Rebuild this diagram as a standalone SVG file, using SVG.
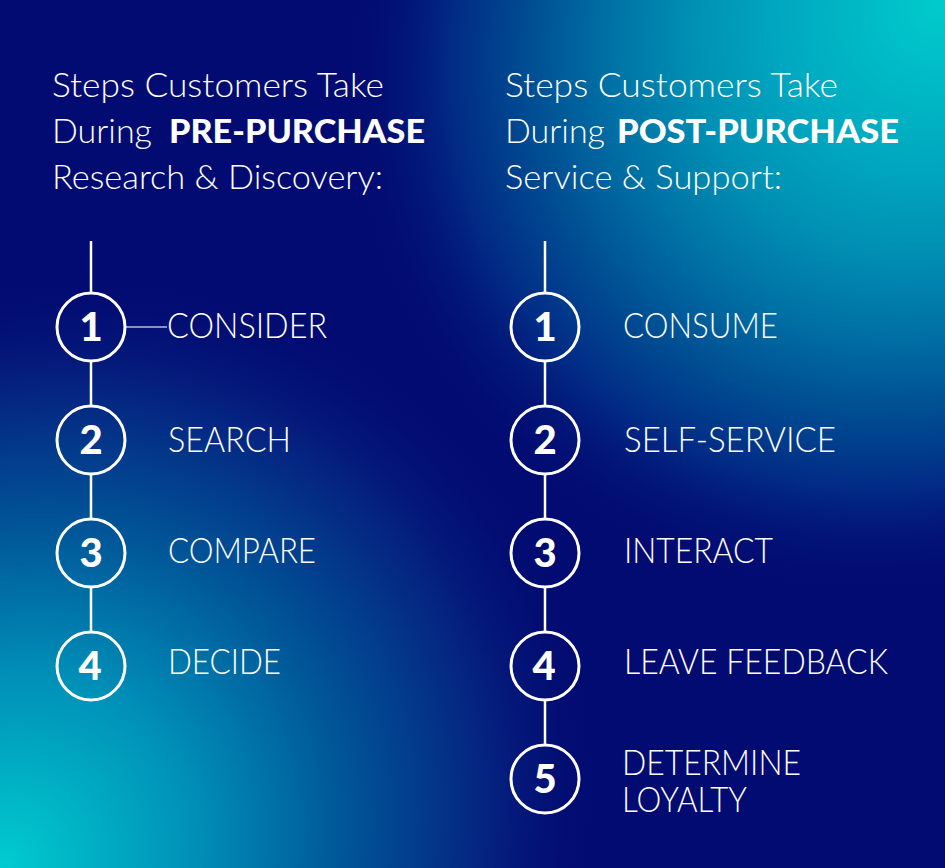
<svg xmlns="http://www.w3.org/2000/svg" width="945" height="868" viewBox="0 0 945 868">
<defs>
<radialGradient id="glowBL" gradientUnits="userSpaceOnUse" cx="0" cy="0" r="1" gradientTransform="translate(0,868) rotate(-42.6) scale(640,560)">
<stop offset="0" stop-color="#00ccd0"/>
<stop offset="0.15" stop-color="#00b0c4"/>
<stop offset="0.32" stop-color="#0090b8"/>
<stop offset="0.55" stop-color="#005a9a"/>
<stop offset="0.82" stop-color="#05207f"/>
<stop offset="1" stop-color="#020b71" stop-opacity="0"/>
</radialGradient>
<radialGradient id="glowTR" gradientUnits="userSpaceOnUse" cx="0" cy="0" r="1" gradientTransform="translate(945,0) rotate(-42.6) scale(640,560)">
<stop offset="0" stop-color="#00cccc"/>
<stop offset="0.27" stop-color="#00a8c0"/>
<stop offset="0.42" stop-color="#0090b4"/>
<stop offset="0.56" stop-color="#0070a4"/>
<stop offset="0.71" stop-color="#004890"/>
<stop offset="0.82" stop-color="#022a85"/>
<stop offset="1" stop-color="#020b71" stop-opacity="0"/>
</radialGradient>
<style>
.h{font-family:Lato,"Liberation Sans",sans-serif;font-weight:300;font-size:33px;fill:#fff}
.hb{font-family:Lato,"Liberation Sans",sans-serif;font-weight:900;font-size:33px;fill:#fff}
.lb{font-family:Lato,"Liberation Sans",sans-serif;font-weight:300;font-size:34.5px;fill:#fff}
.n{font-family:Lato,"Liberation Sans",sans-serif;font-weight:900;font-size:40px;fill:#fff;text-anchor:middle}
.c{fill:none;stroke:#fff;stroke-width:3}
.ln{stroke:#fff;stroke-width:2.5;fill:none}
.lt{stroke:#b8bcd8;stroke-width:1.5;fill:none}
</style>
</defs>
<rect width="945" height="868" fill="#020b71"/>
<rect width="945" height="868" fill="url(#glowBL)"/>
<rect width="945" height="868" fill="url(#glowTR)"/>
<g id="heading-left">
<text class="h" x="52" y="97" textLength="332" lengthAdjust="spacingAndGlyphs">Steps Customers Take</text>
<text class="h" x="52" y="143" textLength="100" lengthAdjust="spacingAndGlyphs">During</text>
<text class="hb" x="169" y="143" textLength="256" lengthAdjust="spacingAndGlyphs">PRE-PURCHASE</text>
<text class="h" x="52" y="189" textLength="331" lengthAdjust="spacingAndGlyphs">Research &amp; Discovery:</text>
</g>
<g id="heading-right">
<text class="h" x="505" y="97" textLength="333" lengthAdjust="spacingAndGlyphs">Steps Customers Take</text>
<text class="h" x="505" y="143" textLength="100" lengthAdjust="spacingAndGlyphs">During</text>
<text class="hb" x="617" y="143" textLength="282" lengthAdjust="spacingAndGlyphs">POST-PURCHASE</text>
<text class="h" x="505" y="189" textLength="277" lengthAdjust="spacingAndGlyphs">Service &amp; Support:</text>
</g>
<g id="connectors">
<line class="ln" x1="91" y1="241" x2="91" y2="292"/>
<line class="ln" x1="91" y1="362" x2="91" y2="405"/>
<line class="ln" x1="91" y1="475" x2="91" y2="518"/>
<line class="ln" x1="91" y1="588" x2="91" y2="631"/>
<line class="lt" x1="126" y1="327" x2="167" y2="327"/>
<line class="ln" x1="545" y1="241" x2="545" y2="292"/>
<line class="ln" x1="545" y1="362" x2="545" y2="405"/>
<line class="ln" x1="545" y1="475" x2="545" y2="518"/>
<line class="ln" x1="545" y1="588" x2="545" y2="631"/>
<line class="ln" x1="545" y1="701" x2="545" y2="744"/>
</g>
<g id="step-l1"><circle class="c" cx="91" cy="327" r="34"/><text class="n" x="91" y="341">1</text><text class="lb" x="167" y="338" textLength="160" lengthAdjust="spacingAndGlyphs">CONSIDER</text></g>
<g id="step-l2"><circle class="c" cx="91" cy="440" r="34"/><text class="n" x="91" y="454">2</text><text class="lb" x="168" y="452" textLength="123" lengthAdjust="spacingAndGlyphs">SEARCH</text></g>
<g id="step-l3"><circle class="c" cx="91" cy="553" r="34"/><text class="n" x="91" y="567">3</text><text class="lb" x="168" y="563" textLength="148" lengthAdjust="spacingAndGlyphs">COMPARE</text></g>
<g id="step-l4"><circle class="c" cx="91" cy="666" r="34"/><text class="n" x="90" y="680">4</text><text class="lb" x="168" y="674" textLength="113" lengthAdjust="spacingAndGlyphs">DECIDE</text></g>
<g id="step-r1"><circle class="c" cx="545" cy="327" r="34"/><text class="n" x="545" y="341">1</text><text class="lb" x="623" y="338" textLength="155" lengthAdjust="spacingAndGlyphs">CONSUME</text></g>
<g id="step-r2"><circle class="c" cx="545" cy="440" r="34"/><text class="n" x="545" y="454">2</text><text class="lb" x="624" y="452" textLength="212" lengthAdjust="spacingAndGlyphs">SELF-SERVICE</text></g>
<g id="step-r3"><circle class="c" cx="545" cy="553" r="34"/><text class="n" x="545" y="567">3</text><text class="lb" x="624" y="563" textLength="149" lengthAdjust="spacingAndGlyphs">INTERACT</text></g>
<g id="step-r4"><circle class="c" cx="545" cy="666" r="34"/><text class="n" x="544" y="680">4</text><text class="lb" x="624" y="674" textLength="264" lengthAdjust="spacingAndGlyphs">LEAVE FEEDBACK</text></g>
<g id="step-r5"><circle class="c" cx="545" cy="779" r="34"/><text class="n" x="545" y="793">5</text><text class="lb" x="622" y="775" textLength="179" lengthAdjust="spacingAndGlyphs">DETERMINE</text><text class="lb" x="622" y="812" textLength="125" lengthAdjust="spacingAndGlyphs">LOYALTY</text></g>
</svg>
